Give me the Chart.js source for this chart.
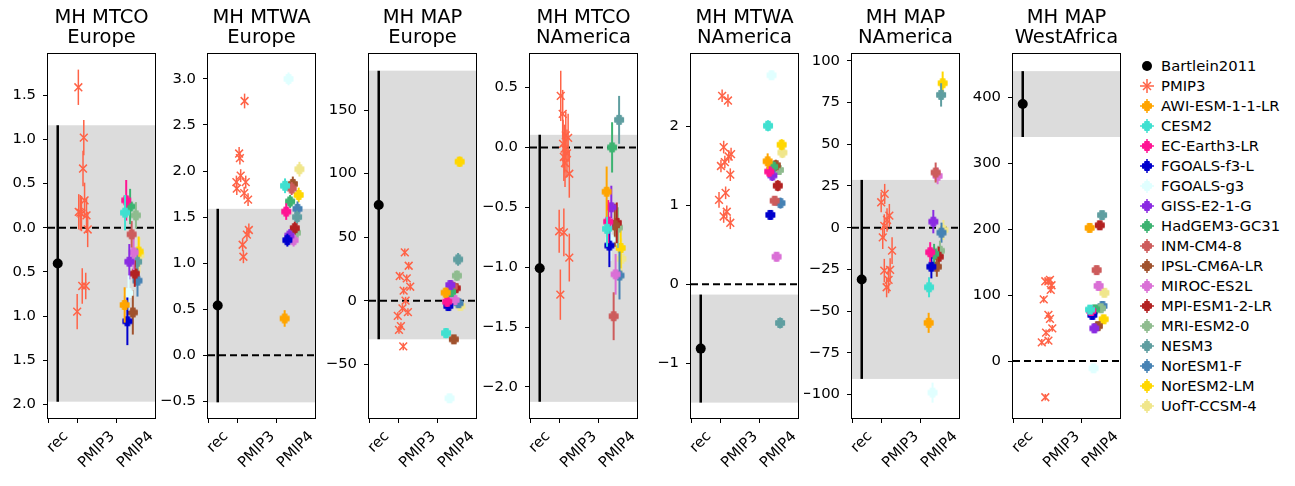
<!DOCTYPE html>
<html>
<head>
<meta charset="utf-8">
<script src="https://cdn.jsdelivr.net/npm/chart.js@4"></script>
<style>
  body { margin: 0; background: #fff; width: 1295px; height: 486px; position: relative; overflow: hidden; font-family: "DejaVu Sans", sans-serif; }
  canvas.panel { position: absolute; top: 0; }
  #legend { position: absolute; left: 1136px; top: 56px; }
  .row { position: absolute; left: 0; height: 20px; line-height: 20px; font-size: 14.8px; white-space: nowrap; color: #000; }
  .row canvas { position: absolute; left: 0; top: 0; }
  .row span { position: absolute; left: 25px; }
</style>
</head>
<body>
<div id="legend"></div>
<script>
const xLabels = ['rec', 'PMIP3', 'PMIP4'];
const xLabelPos = [0.5, 1.5, 2.5];
const xTickPos = [0.25, 1, 2];
const recX = 0.5;

const models = ['AWI-ESM-1-1-LR', 'CESM2', 'EC-Earth3-LR', 'FGOALS-f3-L', 'FGOALS-g3', 'GISS-E2-1-G',
  'HadGEM3-GC31', 'INM-CM4-8', 'IPSL-CM6A-LR', 'MIROC-ES2L', 'MPI-ESM1-2-LR', 'MRI-ESM2-0',
  'NESM3', 'NorESM1-F', 'NorESM2-LM', 'UofT-CCSM-4'];
const modelColors = ['#ffa500', '#40e0d0', '#ff1493', '#0000cd', '#e0ffff', '#8a2be2',
  '#3cb371', '#cd5c5c', '#a0522d', '#da70d6', '#b22222', '#8fbc8f',
  '#5f9ea0', '#4682b4', '#ffd700', '#f0e68c'];
const pmip4X = [2.22, 2.23, 2.26, 2.29, 2.32, 2.34, 2.36, 2.40, 2.43, 2.45, 2.48, 2.51, 2.54, 2.55, 2.58, 2.60];
const pmip3Color = '#ff6347';

// MH MTCO Europe
const p1Title = ['MH MTCO', 'Europe'];
const p1Ticks = [-2, -1.5, -1, -0.5, 0, 0.5, 1, 1.5];
const p1Range = [-2.155, 1.967];
const p1Rec = [-0.405, 1.565];
const p1Pmip3X = [1.03, 1.17, 1.15, 1.19, 1.04, 1.11, 1.24, 1.27, 1.13, 1.22, 1.0, 1.08];
const p1Pmip3Y = [1.59, 1.02, 0.67, 0.31, 0.18, 0.16, 0.14, -0.02, -0.66, -0.66, -0.95, 0.17];
const p1Pmip3E = [0.2, 0.2, 0.2, 0.2, 0.2, 0.2, 0.2, 0.2, 0.2, 0.15, 0.2, 0.2];
const p1Pmip4Y = [-0.875, 0.17, 0.31, -1.06, -0.74, -0.385, 0.24, -0.075, -0.96, -0.28, -0.52, 0.14, -0.385, -0.60, -0.27, -0.31];
const p1Pmip4E = [0.2, 0.2, 0.23, 0.27, 0.2, 0.2, 0.2, 0.15, 0.25, 0.2, 0.15, 0.15, 0.15, 0.18, 0.17, 0.2];

// MH MTWA Europe
const p2Title = ['MH MTWA', 'Europe'];
const p2Ticks = [-0.5, 0, 0.5, 1, 1.5, 2, 2.5, 3];
const p2Range = [-0.68, 3.27];
const p2Rec = [0.54, 1.05];
const p2Pmip3X = [1.19, 1.05, 1.07, 1.09, 0.98, 1.22, 0.99, 1.18, 1.28, 1.30, 1.25, 1.14, 1.16];
const p2Pmip3Y = [2.76, 2.19, 2.14, 1.95, 1.88, 1.88, 1.81, 1.76, 1.69, 1.36, 1.31, 1.20, 1.07];
const p2Pmip3E = [0.08, 0.07, 0.07, 0.07, 0.07, 0.07, 0.07, 0.07, 0.07, 0.07, 0.07, 0.07, 0.07];
const p2Pmip4Y = [0.40, 1.84, 1.56, 1.25, 3.0, 1.30, 1.67, 1.81, 1.86, 1.25, 1.38, 1.33, 1.50, 1.59, 1.74, 2.02];
const p2Pmip4E = [0.09, 0.08, 0.09, 0.07, 0.07, 0.07, 0.07, 0.07, 0.08, 0.07, 0.07, 0.07, 0.07, 0.08, 0.08, 0.08];

// MH MAP Europe
const p3Title = ['MH MAP', 'Europe'];
const p3Ticks = [-50, 0, 50, 100, 150];
const p3Range = [-92.3, 194.1];
const p3Rec = [75.3, 105.7];
const p3Pmip3X = [1.17, 1.27, 1.04, 1.22, 1.31, 1.14, 1.19, 1.11, 1.25, 0.99, 1.07, 1.02, 1.13];
const p3Pmip3Y = [38, 27.5, 19.4, 17.6, 11, 7.9, 0, -6, -9, -12, -20, -23, -36];
const p3Pmip3E = [3, 3, 3, 3, 3, 3, 3, 3, 3, 3, 3, 3, 3];
const p3Pmip4Y = [6.3, -25.5, -0.8, -4.2, -76.8, 12.3, 6.8, 11, -30.4, 0.5, 9.8, 19.7, 32.5, -2, 109.4, -4.2];
const p3Pmip4E = [4, 4, 4, 3, 3, 4, 4, 4, 3, 4, 3, 4, 5, 3, 4, 3];

// MH MTCO NAmerica
const p4Title = ['MH MTCO', 'NAmerica'];
const p4Ticks = [-2, -1.5, -1, -0.5, 0, 0.5];
const p4Range = [-2.26, 0.78];
const p4Rec = [-1.01, 1.115];
const p4Pmip3X = [1.04, 1.09, 1.17, 1.23, 1.10, 1.14, 1.20, 1.12, 1.15, 1.26, 1.0, 1.12, 1.26, 1.03];
const p4Pmip3Y = [0.43, 0.28, 0.10, 0.08, 0.03, -0.01, -0.05, -0.08, -0.13, -0.22, -0.70, -0.71, -0.92, -1.23];
const p4Pmip3E = [0.21, 0.2, 0.2, 0.2, 0.2, 0.2, 0.2, 0.2, 0.2, 0.2, 0.18, 0.2, 0.2, 0.21];
const p4Pmip4Y = [-0.37, -0.68, -0.62, -0.82, -0.77, -0.50, 0.0, -1.41, -0.65, -1.06, -0.63, -0.67, 0.23, -1.07, -0.84, -0.93];
const p4Pmip4E = [0.21, 0.15, 0.18, 0.18, 0.18, 0.18, 0.21, 0.2, 0.18, 0.17, 0.17, 0.17, 0.2, 0.2, 0.17, 0.17];

// MH MTWA NAmerica
const p5Title = ['MH MTWA', 'NAmerica'];
const p5Ticks = [-1, 0, 1, 2];
const p5Range = [-1.695, 2.92];
const p5Rec = [-0.815, 0.685];
const p5Pmip3X = [1.05, 1.20, 1.09, 1.28, 1.22, 1.12, 1.02, 1.26, 1.14, 0.97, 1.17, 1.09, 1.26];
const p5Pmip3Y = [2.39, 2.33, 1.74, 1.65, 1.62, 1.55, 1.50, 1.39, 1.16, 1.07, 0.92, 0.86, 0.78];
const p5Pmip3E = [0.08, 0.08, 0.08, 0.08, 0.08, 0.08, 0.08, 0.08, 0.08, 0.1, 0.08, 0.08, 0.08];
const p5Pmip4Y = [1.56, 2.01, 1.43, 0.88, 2.65, 1.38, 1.49, 1.06, 1.51, 0.35, 1.25, 1.45, -0.49, 1.03, 1.77, 1.67];
const p5Pmip4E = [0.1, 0.07, 0.07, 0.06, 0.06, 0.07, 0.07, 0.06, 0.07, 0.06, 0.07, 0.06, 0.07, 0.07, 0.07, 0.07];

// MH MAP NAmerica
const p6Title = ['MH MAP', 'NAmerica'];
const p6Ticks = [-100, -75, -50, -25, 0, 25, 50, 75, 100];
const p6Range = [-114, 104];
const p6Rec = [-31, 59.6];
const p6Pmip3X = [1.09, 1.0, 1.21, 1.15, 1.08, 1.04, 1.28, 1.08, 1.23, 1.19, 1.14];
const p6Pmip3Y = [20.2, 15.2, 7.2, 4.6, 1.0, -5.8, -13.8, -25.7, -25.3, -31.3, -35.7];
const p6Pmip3E = [6, 6, 7, 7, 7, 7, 8, 7, 7, 8, 6];
const p6Pmip4Y = [-57, -35.7, -14.7, -23.4, -98.8, 3.6, -15.7, 33, -23.4, 31, -17.4, -13.8, 79.5, -3, 86.5, -1.4];
const p6Pmip4E = [6, 6, 6, 7, 6, 7, 6, 6, 6, 5, 6, 6, 7, 6, 7, 6];

// MH MAP WestAfrica
const p7Title = ['MH MAP', 'WestAfrica'];
const p7Ticks = [0, 100, 200, 300, 400];
const p7Range = [-86.5, 466];
const p7Rec = [390, 50];
const p7Pmip3X = [1.08, 1.16, 1.20, 1.24, 1.22, 1.04, 1.16, 1.20, 1.10, 1.26, 1.16, 0.99, 1.08];
const p7Pmip3Y = [121, 121, 123, 115, 108, 93.6, 70, 64, 43, 49.6, 31, 28.4, -55];
const p7Pmip3E = [5, 5, 5, 5, 5, 5, 5, 5, 5, 5, 5, 5, 5];
const p7Pmip4Y = [202, 78, 76, 70, -11, 49.6, 78.4, 138, 53, 114, 206, 80, 221.5, 83.5, 63.3, 103.6];
const p7Pmip4E = [4, 4, 4, 4, 4, 4, 4, 4, 4, 4, 4, 4, 4, 4, 4, 4];

const panels = [
  { title: p1Title, ticks: p1Ticks, range: p1Range, dec: 1, rec: p1Rec, p3x: p1Pmip3X, p3y: p1Pmip3Y, p3e: p1Pmip3E, p4y: p1Pmip4Y, p4e: p1Pmip4E },
  { title: p2Title, ticks: p2Ticks, range: p2Range, dec: 1, rec: p2Rec, p3x: p2Pmip3X, p3y: p2Pmip3Y, p3e: p2Pmip3E, p4y: p2Pmip4Y, p4e: p2Pmip4E },
  { title: p3Title, ticks: p3Ticks, range: p3Range, dec: 0, rec: p3Rec, p3x: p3Pmip3X, p3y: p3Pmip3Y, p3e: p3Pmip3E, p4y: p3Pmip4Y, p4e: p3Pmip4E },
  { title: p4Title, ticks: p4Ticks, range: p4Range, dec: 1, rec: p4Rec, p3x: p4Pmip3X, p3y: p4Pmip3Y, p3e: p4Pmip3E, p4y: p4Pmip4Y, p4e: p4Pmip4E },
  { title: p5Title, ticks: p5Ticks, range: p5Range, dec: 0, rec: p5Rec, p3x: p5Pmip3X, p3y: p5Pmip3Y, p3e: p5Pmip3E, p4y: p5Pmip4Y, p4e: p5Pmip4E },
  { title: p6Title, ticks: p6Ticks, range: p6Range, dec: 0, rec: p6Rec, p3x: p6Pmip3X, p3y: p6Pmip3Y, p3e: p6Pmip3E, p4y: p6Pmip4Y, p4e: p6Pmip4E },
  { title: p7Title, ticks: p7Ticks, range: p7Range, dec: 0, rec: p7Rec, p3x: p7Pmip3X, p3y: p7Pmip3Y, p3e: p7Pmip3E, p4y: p7Pmip4Y, p4e: p7Pmip4E }
];

// layout of the panels (pixels)
const plotLefts = [48, 208, 369, 530, 691, 852, 1013];
const plotW = 107;
const plotBottom = 418;
const canvasH = 486;
const rightPad = 12;
const FONT = '"DejaVu Sans", sans-serif';
const TICK_SIZE = 14.8;

function fmt(v, dec) {
  const s = Math.abs(v).toFixed(dec);
  return v < 0 ? '\u2212' + s : s;
}

// filled plus marker ('P') used for the PMIP4 models
function plusMarker(color) {
  const c = document.createElement('canvas');
  c.width = 12; c.height = 12;
  const g = c.getContext('2d');
  const m = 6, L = 4.5, W = 2.3;
  g.fillStyle = color; g.strokeStyle = color; g.lineWidth = 1; g.lineJoin = 'round';
  g.beginPath();
  g.moveTo(m - W, m - L); g.lineTo(m + W, m - L); g.lineTo(m + W, m - W); g.lineTo(m + L, m - W);
  g.lineTo(m + L, m + W); g.lineTo(m + W, m + W); g.lineTo(m + W, m + L); g.lineTo(m - W, m + L);
  g.lineTo(m - W, m + W); g.lineTo(m - L, m + W); g.lineTo(m - L, m - W); g.lineTo(m - W, m - W);
  g.closePath(); g.fill(); g.stroke();
  return c;
}
const markers = modelColors.map(plusMarker);

// grey band for the reconstruction range, zero line, error bars, frame and rotated x labels
const panelDecor = {
  id: 'panelDecor',
  beforeDatasetsDraw(chart, args, opts) {
    const { ctx, chartArea: a, scales: { y } } = chart;
    ctx.save();
    ctx.beginPath(); ctx.rect(a.left, a.top, a.width, a.height); ctx.clip();
    const top = y.getPixelForValue(opts.rec[0] + opts.rec[1]);
    const bot = y.getPixelForValue(opts.rec[0] - opts.rec[1]);
    ctx.fillStyle = '#dcdcdc';
    ctx.fillRect(a.left, top, a.width, bot - top);
    const y0 = y.getPixelForValue(0);
    ctx.strokeStyle = '#000'; ctx.lineWidth = 2; ctx.setLineDash([7, 4]);
    ctx.beginPath(); ctx.moveTo(a.left, y0); ctx.lineTo(a.right, y0); ctx.stroke();
    ctx.restore();
  },
  beforeDatasetDraw(chart, args) {
    const ds = chart.data.datasets[args.index];
    if (!ds.errors) return;
    const { ctx, chartArea: a, scales: { x, y } } = chart;
    ctx.save();
    ctx.beginPath(); ctx.rect(a.left, a.top, a.width, a.height); ctx.clip();
    ctx.strokeStyle = ds.errColor; ctx.lineWidth = ds.errWidth;
    ds.data.forEach((p, i) => {
      const px = x.getPixelForValue(p.x);
      ctx.beginPath();
      ctx.moveTo(px, y.getPixelForValue(p.y - ds.errors[i]));
      ctx.lineTo(px, y.getPixelForValue(p.y + ds.errors[i]));
      ctx.stroke();
    });
    ctx.restore();
  },
  afterDraw(chart) {
    const { ctx, chartArea: a, scales: { x } } = chart;
    ctx.save();
    ctx.strokeStyle = '#000'; ctx.lineWidth = 1;
    ctx.strokeRect(a.left - 0.5, a.top - 0.5, a.width + 1, a.height + 1);
    // category labels, rotated 45 degrees and centred under their position
    ctx.font = TICK_SIZE + 'px ' + FONT;
    ctx.fillStyle = '#000';
    ctx.textAlign = 'center';
    ctx.textBaseline = 'middle';
    xLabels.forEach((lab, i) => {
      const w = ctx.measureText(lab).width;
      const s = (w + TICK_SIZE * 1.17) / Math.SQRT2;
      ctx.save();
      ctx.translate(x.getPixelForValue(xLabelPos[i]), a.bottom + 10 + s / 2);
      ctx.rotate(-Math.PI / 4);
      ctx.fillText(lab, 0, 0);
      ctx.restore();
    });
    ctx.restore();
  }
};

panels.forEach((p, k) => {
  const yw = k === 0 ? 36 : 48;   // first panel: negative signs get cut off at the figure edge
  const cv = document.createElement('canvas');
  cv.className = 'panel';
  cv.width = yw + plotW + rightPad;
  cv.height = canvasH;
  cv.style.left = (plotLefts[k] - yw) + 'px';
  document.body.appendChild(cv);

  const datasets = [
    {
      data: [{ x: recX, y: p.rec[0] }], errors: [p.rec[1]], errColor: '#000', errWidth: 2.5,
      pointStyle: 'circle', pointRadius: 5, backgroundColor: '#000', borderWidth: 0
    },
    {
      data: p.p3x.map((x, i) => ({ x, y: p.p3y[i] })), errors: p.p3e, errColor: pmip3Color, errWidth: 1.5,
      pointStyle: 'crossRot', pointRadius: 5.5, borderColor: pmip3Color, borderWidth: 1.5
    }
  ];
  models.forEach((m, i) => {
    datasets.push({
      label: m,
      data: [{ x: pmip4X[i], y: p.p4y[i] }], errors: [p.p4e[i]], errColor: modelColors[i], errWidth: 2,
      pointStyle: markers[i], backgroundColor: modelColors[i], borderColor: modelColors[i]
    });
  });

  const axisGrid = { display: true, drawOnChartArea: false, drawTicks: true, tickLength: 5, color: '#000', lineWidth: 1 };
  new Chart(cv, {
    type: 'scatter',
    data: { datasets },
    plugins: [panelDecor],
    options: {
      responsive: false,
      maintainAspectRatio: false,
      animation: false,
      layout: { padding: { right: rightPad } },
      plugins: {
        legend: { display: false },
        tooltip: { enabled: false },
        title: {
          display: true, fullSize: false, text: p.title, color: '#000',
          font: { family: FONT, size: 19.5, weight: 'normal', lineHeight: 1.0 },
          padding: { top: 8.25, bottom: 6.75 }
        },
        panelDecor: { rec: p.rec }
      },
      scales: {
        x: {
          type: 'linear', min: 0.25, max: 3,
          afterBuildTicks: s => { s.ticks = xTickPos.map(v => ({ value: v })); },
          afterFit: s => { s.height = canvasH - plotBottom; },
          grid: axisGrid,
          border: { display: false },
          ticks: { autoSkip: false, maxRotation: 0, callback: () => '' }
        },
        y: {
          type: 'linear', min: p.range[0], max: p.range[1],
          afterBuildTicks: s => { s.ticks = p.ticks.map(v => ({ value: v })); },
          afterFit: s => { s.width = yw; },
          grid: axisGrid,
          border: { display: false },
          ticks: {
            font: { family: FONT, size: TICK_SIZE }, color: '#000', padding: 7,
            callback: v => fmt(v, p.dec)
          }
        }
      }
    }
  });
});

// legend
const legendNames = ['Bartlein2011', 'PMIP3'].concat(models);
const legendBox = document.getElementById('legend');
legendNames.forEach((name, i) => {
  const row = document.createElement('div');
  row.className = 'row';
  row.style.top = (i * 20) + 'px';
  const c = document.createElement('canvas');
  c.width = 22; c.height = 20;
  const g = c.getContext('2d');
  const cx = 11, cy = 10;
  if (i === 0) {
    g.fillStyle = '#000';
    g.beginPath(); g.arc(cx, cy, 5, 0, Math.PI * 2); g.fill();
  } else {
    const col = i === 1 ? pmip3Color : modelColors[i - 2];
    g.strokeStyle = col; g.lineWidth = 1.5;
    g.beginPath(); g.moveTo(cx - 7, cy); g.lineTo(cx + 7, cy); g.moveTo(cx, cy - 7); g.lineTo(cx, cy + 7); g.stroke();
    if (i === 1) {
      g.beginPath(); g.moveTo(cx - 4, cy - 4); g.lineTo(cx + 4, cy + 4); g.moveTo(cx - 4, cy + 4); g.lineTo(cx + 4, cy - 4); g.stroke();
    } else {
      g.drawImage(markers[i - 2], cx - 6, cy - 6);
    }
  }
  const t = document.createElement('span');
  t.textContent = name;
  row.appendChild(c);
  row.appendChild(t);
  legendBox.appendChild(row);
});
</script>
</body>
</html>
